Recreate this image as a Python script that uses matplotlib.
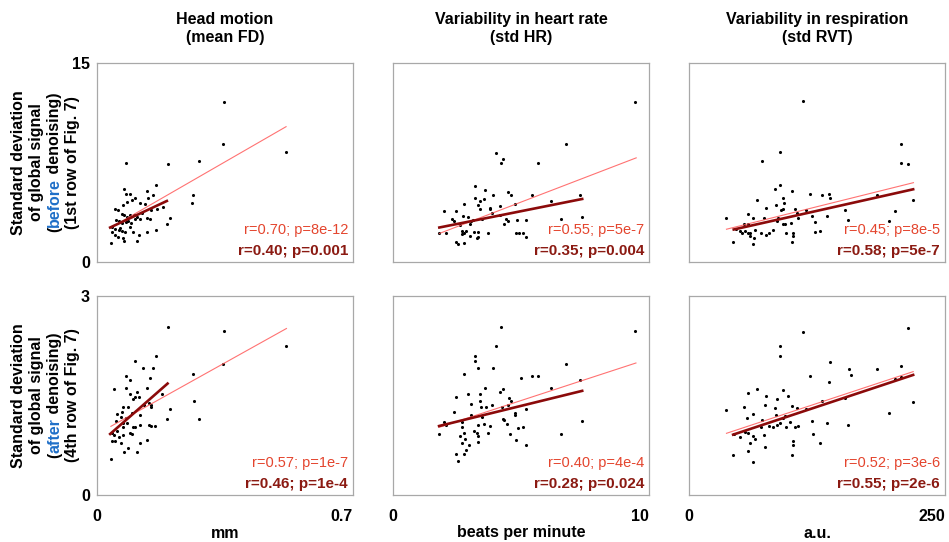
import numpy as np
import matplotlib
matplotlib.use("Agg")
import matplotlib.pyplot as plt

plt.rcParams['font.family'] = ['Liberation Sans', 'DejaVu Sans']

W, H = 949, 542

# column / row labels
col_titles = ["Head motion\n(mean FD)", "Variability in heart rate\n(std HR)",
              "Variability in respiration\n(std RVT)"]
col_units = ["mm", "beats per minute", "a.u."]
col_xmax = [0.7, 10, 250]
col_xticklabels = [["0", "0.7"], ["0", "10"], ["0", "250"]]
row_ymax = [15, 3]
row_yticklabels = [["0", "15"], ["0", "3"]]
row_label_lines = [
    [[("Standard deviation", "k")], [("of global signal", "k")],
     [("(", "k"), ("before", "#1f6fc8"), (" denoising)", "k")],
     [("(1st row of Fig. 7)", "k")]],
    [[("Standard deviation", "k")], [("of global signal", "k")],
     [("(", "k"), ("after", "#1f6fc8"), (" denoising)", "k")],
     [("(4th row of Fig. 7)", "k")]],
]

# top row: global signal std before denoising
fd_before_x = [0.347, 0.344, 0.517, 0.279, 0.193, 0.078, 0.162, 0.262, 0.26, 0.199, 0.191,
               0.039, 0.075, 0.078, 0.089, 0.104, 0.095, 0.136, 0.153, 0.14, 0.072, 0.081,
               0.118, 0.13, 0.048, 0.057, 0.18, 0.164, 0.148, 0.068, 0.075, 0.081, 0.091,
               0.1, 0.109, 0.104, 0.052, 0.06, 0.068, 0.08, 0.092, 0.118, 0.136, 0.145,
               0.042, 0.049, 0.06, 0.068, 0.077, 0.091, 0.098, 0.114, 0.136, 0.16, 0.042,
               0.049, 0.057, 0.072, 0.075, 0.11, 0.063, 0.085, 0.123]
fd_before_y = [12.08, 8.89, 8.27, 7.64, 7.36, 7.44, 5.83, 5.08, 4.42, 3.29, 2.84,
               1.41, 5.48, 5.13, 5.13, 4.82, 4.67, 5.35, 5.08, 4.82, 4.27, 4.52,
               4.42, 4.37, 3.97, 3.92, 4.12, 3.97, 3.92, 3.62, 3.52, 3.42, 3.52,
               3.57, 3.37, 3.22, 3.17, 3.07, 2.92, 3.02, 2.92, 3.27, 3.29, 3.22,
               2.66, 2.51, 2.41, 2.31, 2.26, 2.66, 2.26, 2.06, 2.26, 2.41, 2.26,
               2.06, 1.91, 1.81, 1.56, 1.56, 2.56, 3.1, 3.72]

hr_before_x = [9.47, 6.77, 4.04, 4.28, 4.22, 5.65, 3.22, 3.61, 4.49, 4.6, 3.91, 3.22, 3.4,
               3.57, 3.33, 2.79, 5.44, 6.17, 7.29, 4.78, 4.19, 3.78, 1.98, 2.47, 3.4, 3.85,
               4.17, 2.72, 2.94, 3.14, 3.49, 4.41, 4.51, 4.34, 4.83, 5.2, 6.56, 7.38, 2.4,
               2.62, 3.01, 2.7, 2.77, 2.85, 2.68, 3.18, 3.33, 3.01, 3.28, 3.32, 3.7, 1.81,
               2.07, 2.47, 2.53, 2.76, 4.82, 4.91, 5.08, 5.18, 3.04, 3.8, 2.29]
hr_before_y = [12.05, 8.86, 8.2, 7.73, 7.45, 7.47, 5.76, 5.43, 5.3, 5.02, 5.02, 4.8, 4.62,
               4.72, 4.32, 4.37, 5.08, 4.62, 5.08, 4.37, 4.22, 3.97, 3.86, 3.86, 3.97, 3.67,
               3.56, 3.46, 3.36, 3.16, 3.23, 3.23, 3.11, 2.85, 3.2, 3.2, 3.23, 3.36, 3.06,
               2.8, 2.85, 2.35, 2.22, 2.35, 2.1, 2.27, 2.27, 1.94, 1.79, 1.89, 2.22, 2.15,
               2.2, 1.49, 1.34, 1.44, 2.15, 2.15, 2.15, 1.89, 3.1, 4.07, 3.23]

rvt_before_x = [111.2, 206.9, 207.5, 213.7, 88.5, 71.0, 88.5, 84.0, 100.9, 91.8, 93.1, 66.2,
                85.3, 74.9, 90.2, 91.8, 103.4, 105.1, 114.5, 117.7, 129.7, 137.2, 138.1,
                183.2, 218.9, 201.1, 195.5, 152.1, 155.3, 134.9, 120.3, 123.2, 123.2, 128.4,
                36.6, 57.4, 62.6, 73.0, 86.6, 86.3, 91.4, 93.7, 99.5, 106.7, 53.5, 57.4,
                45.7, 49.6, 54.5, 57.4, 59.3, 52.2, 64.5, 59.3, 63.2, 62.6, 43.1, 70.0,
                74.9, 78.1, 82.4, 95.0, 101.5, 101.5, 100.9]
rvt_before_y = [12.1, 8.91, 7.45, 7.35, 8.26, 7.65, 5.81, 5.48, 5.35, 4.8, 4.44, 4.67,
                4.27, 4.09, 3.91, 3.96, 4.02, 3.69, 3.89, 5.13, 5.05, 5.13, 4.8,
                5.08, 4.67, 3.86, 3.11, 3.89, 3.16, 3.48, 3.43, 3.01, 2.27, 2.35,
                3.28, 3.64, 3.28, 3.28, 3.28, 3.06, 2.83, 2.83, 2.93, 3.28, 2.86, 2.83,
                2.47, 2.35, 2.35, 2.22, 2.15, 2.17, 2.4, 1.95, 1.79, 1.39, 1.49, 2.17,
                2.02, 2.22, 2.4, 2.15, 2.22, 1.97, 1.52]

# bottom row: global signal std after denoising
fd_after_x = [0.193, 0.347, 0.516, 0.162, 0.104, 0.127, 0.153, 0.078, 0.146, 0.344, 0.262,
              0.089, 0.046, 0.079, 0.109, 0.136, 0.179, 0.091, 0.098, 0.104, 0.116, 0.264,
              0.142, 0.148, 0.128, 0.072, 0.084, 0.2, 0.148, 0.054, 0.069, 0.095, 0.118,
              0.065, 0.078, 0.051, 0.191, 0.279, 0.07, 0.081, 0.098, 0.103, 0.143, 0.149,
              0.159, 0.118, 0.072, 0.055, 0.04, 0.046, 0.072, 0.091, 0.096, 0.059, 0.042,
              0.049, 0.136, 0.065, 0.118, 0.084, 0.075, 0.109, 0.039]
fd_after_y = [2.535, 2.47, 2.25, 2.1, 2.02, 1.92, 1.91, 1.8, 1.76, 1.97, 1.82,
              1.73, 1.6, 1.62, 1.56, 1.61, 1.52, 1.53, 1.45, 1.48, 1.48, 1.42,
              1.38, 1.36, 1.36, 1.33, 1.33, 1.29, 1.32, 1.22, 1.25, 1.23, 1.2,
              1.17, 1.16, 1.12, 1.15, 1.15, 1.09, 1.08, 1.03, 1.02, 1.06, 1.04,
              1.04, 1.06, 1.02, 0.96, 0.93, 0.91, 0.91, 0.93, 0.92, 0.88, 0.82,
              0.81, 0.83, 0.78, 0.79, 0.71, 0.65, 0.65, 0.55]

hr_after_x = [9.47, 4.22, 4.04, 3.22, 3.22, 3.32, 3.91, 2.79, 6.77, 5.44, 5.65, 5.0, 6.17,
              7.29, 3.59, 4.28, 4.18, 2.93, 3.41, 2.46, 4.52, 4.6, 3.05, 3.4, 3.44, 3.62,
              3.87, 4.26, 4.48, 5.2, 2.4, 3.03, 3.47, 4.78, 4.78, 4.28, 4.35, 7.39, 1.98,
              2.07, 2.7, 2.71, 3.31, 3.54, 3.78, 4.44, 4.88, 5.08, 1.8, 2.79, 3.16, 3.27,
              3.7, 4.56, 6.56, 2.62, 2.82, 3.31, 2.7, 2.98, 4.82, 5.18, 3.31, 2.84, 2.47,
              2.76, 2.53]
hr_after_y = [2.47, 2.54, 2.25, 2.1, 2.02, 1.91, 1.91, 1.82, 1.97, 1.8, 1.8, 1.76, 1.62,
              1.73, 1.61, 1.6, 1.56, 1.53, 1.52, 1.47, 1.46, 1.42, 1.37, 1.41, 1.32, 1.32,
              1.35, 1.33, 1.36, 1.3, 1.25, 1.21, 1.18, 1.23, 1.2, 1.15, 1.13, 1.12, 1.1,
              1.06, 1.1, 1.03, 1.06, 1.07, 1.04, 1.07, 1.01, 1.03, 0.92, 0.94, 0.96, 0.94,
              0.93, 0.92, 0.92, 0.89, 0.85, 0.89, 0.79, 0.75, 0.83, 0.76, 0.8, 0.68, 0.62,
              0.62, 0.52]

rvt_after_x = [213.7, 111.2, 88.5, 88.5, 138.1, 156.3, 183.2, 206.9, 157.9, 117.7, 137.2,
               201.1, 207.5, 57.4, 66.2, 74.9, 91.4, 85.9, 96.3, 129.7, 152.1, 53.5, 73.9,
               84.0, 100.9, 105.1, 114.5, 62.3, 57.1, 85.3, 91.8, 93.8, 195.5, 71.0, 78.1,
               82.1, 86.3, 89.3, 94.8, 98.8, 103.1, 106.7, 120.3, 134.9, 155.3, 69.9, 44.4,
               49.6, 54.8, 58.1, 62.6, 64.6, 73.0, 59.3, 74.3, 101.2, 101.2, 121.3, 128.4,
               43.1, 57.4, 62.6, 100.9, 36.6, 218.9]
rvt_after_y = [2.52, 2.46, 2.24, 2.09, 2.0, 1.9, 1.9, 1.95, 1.81, 1.79, 1.71,
               1.75, 1.78, 1.54, 1.6, 1.5, 1.59, 1.45, 1.5, 1.41, 1.46, 1.32, 1.36,
               1.31, 1.34, 1.31, 1.3, 1.22, 1.16, 1.2, 1.16, 1.19, 1.24, 1.13, 1.04,
               1.03, 1.06, 1.08, 1.02, 1.1, 1.03, 1.04, 1.11, 1.08, 1.05, 1.02, 0.92,
               0.87, 0.95, 0.93, 0.89, 0.84, 0.91, 0.78, 0.73, 0.82, 0.75, 0.92, 0.78,
               0.61, 0.67, 0.5, 0.61, 1.28, 1.4]

points_x = [[fd_before_x, hr_before_x, rvt_before_x], [fd_after_x, hr_after_x, rvt_after_x]]
points_y = [[fd_before_y, hr_before_y, rvt_before_y], [fd_after_y, hr_after_y, rvt_after_y]]

# fitted lines: (x start, x end), (y start, y end)
fit_all_x = [[(0.036, 0.517), (1.81, 9.5), (36.6, 219.2)],
             [(0.038, 0.518), (1.8, 9.49), (36.6, 218.9)]]
fit_all_y = [[(2.56, 10.2), (2.15, 7.85), (2.47, 5.98)],
             [(1.035, 2.51), (1.02, 1.99), (0.93, 1.86)]]
fit_sub_x = [[(0.036, 0.191), (1.81, 7.39), (43.7, 218.9)],
             [(0.036, 0.193), (1.8, 7.39), (43.1, 218.9)]]
fit_sub_y = [[(2.6, 4.6), (2.6, 4.75), (2.45, 5.48)],
             [(0.92, 1.68), (1.04, 1.57), (0.91, 1.81)]]

stats_all = [["r=0.70; p=8e-12", "r=0.55; p=5e-7", "r=0.45; p=8e-5"],
             ["r=0.57; p=1e-7", "r=0.40; p=4e-4", "r=0.52; p=3e-6"]]
stats_sub = [["r=0.40; p=0.001", "r=0.35; p=0.004", "r=0.58; p=5e-7"],
             ["r=0.46; p=1e-4", "r=0.28; p=0.024", "r=0.55; p=2e-6"]]

light_red = "#e4452e"
dark_red = "#8b1a12"
line_light = "#ff5a5a"
line_dark = "#8b0a0a"

col_left = [97, 393, 689]
col_w = 256
row_top = [63, 296]
row_h = 199
fs = 10.5      # regular stats text
fs_b = 11.5    # bold labels


def fx(px):
    return px / W


def fy(py):
    return 1 - py / H


fig = plt.figure(figsize=(W / 100, H / 100), dpi=100)
for r in range(2):
    for c in range(3):
        ax = fig.add_axes([fx(col_left[c]), fy(row_top[r] + row_h), col_w / W, row_h / H])
        ax.scatter(points_x[r][c], points_y[r][c], s=5, c="k", linewidths=0, zorder=3)
        ax.plot(fit_all_x[r][c], fit_all_y[r][c], color=line_light, lw=0.8, alpha=0.85, zorder=4)
        ax.plot(fit_sub_x[r][c], fit_sub_y[r][c], color=line_dark, lw=1.9, zorder=5)
        ax.set_xlim(0, col_xmax[c])
        ax.set_ylim(0, row_ymax[r])
        for s in ax.spines.values():
            s.set_color("#a8a8a8")
            s.set_linewidth(0.9)
        ax.tick_params(length=0)
        if c == 0:
            ax.set_yticks([0, row_ymax[r]], row_yticklabels[r], fontsize=fs_b, fontweight="bold")
            ax.tick_params(axis="y", pad=5)
        else:
            ax.set_yticks([])
        if r == 1:
            ax.set_xticks([0, col_xmax[c]], col_xticklabels[c], fontsize=fs_b, fontweight="bold")
            ax.tick_params(axis="x", pad=10)
            ax.get_xticklabels()[-1].set_horizontalalignment("right")
        else:
            ax.set_xticks([])
        ax.text(0.98, 32 / row_h, stats_all[r][c], transform=ax.transAxes, ha="right",
                va="center", color=light_red, fontsize=fs)
        ax.text(0.98, 11 / row_h, stats_sub[r][c], transform=ax.transAxes, ha="right",
                va="center", color=dark_red, fontsize=11, fontweight="bold")

for c in range(3):
    cx = col_left[c] + col_w / 2
    fig.text(fx(cx), fy(28.5), col_titles[c], ha="center", va="center", fontsize=fs_b,
             fontweight="bold", linespacing=1.18)
    fig.text(fx(cx), fy(533), col_units[c], ha="center", va="center", fontsize=fs_b,
             fontweight="bold")

# rotated multi-colour row labels, one line at a time
renderer = fig.canvas.get_renderer()


def text_width(s):
    t = fig.text(0, 0, s, fontsize=fs_b, fontweight="bold")
    w = t.get_window_extent(renderer).width
    t.remove()
    return w


baselines = [23, 41, 59, 77]
for r in range(2):
    ycen = row_top[r] + row_h / 2
    for li, parts in enumerate(row_label_lines[r]):
        full = "".join(p[0] for p in parts)
        total = text_width(full)
        start = ycen + total / 2  # pixel y (from top) where the line begins
        prefix = ""
        for s, col in parts:
            off = text_width(prefix) if prefix else 0
            fig.text(fx(baselines[li]), fy(start - off), s, rotation=90,
                     rotation_mode="anchor", ha="left", va="baseline", color=col,
                     fontsize=fs_b, fontweight="bold")
            prefix += s

fig.savefig("out.png", dpi=100)
